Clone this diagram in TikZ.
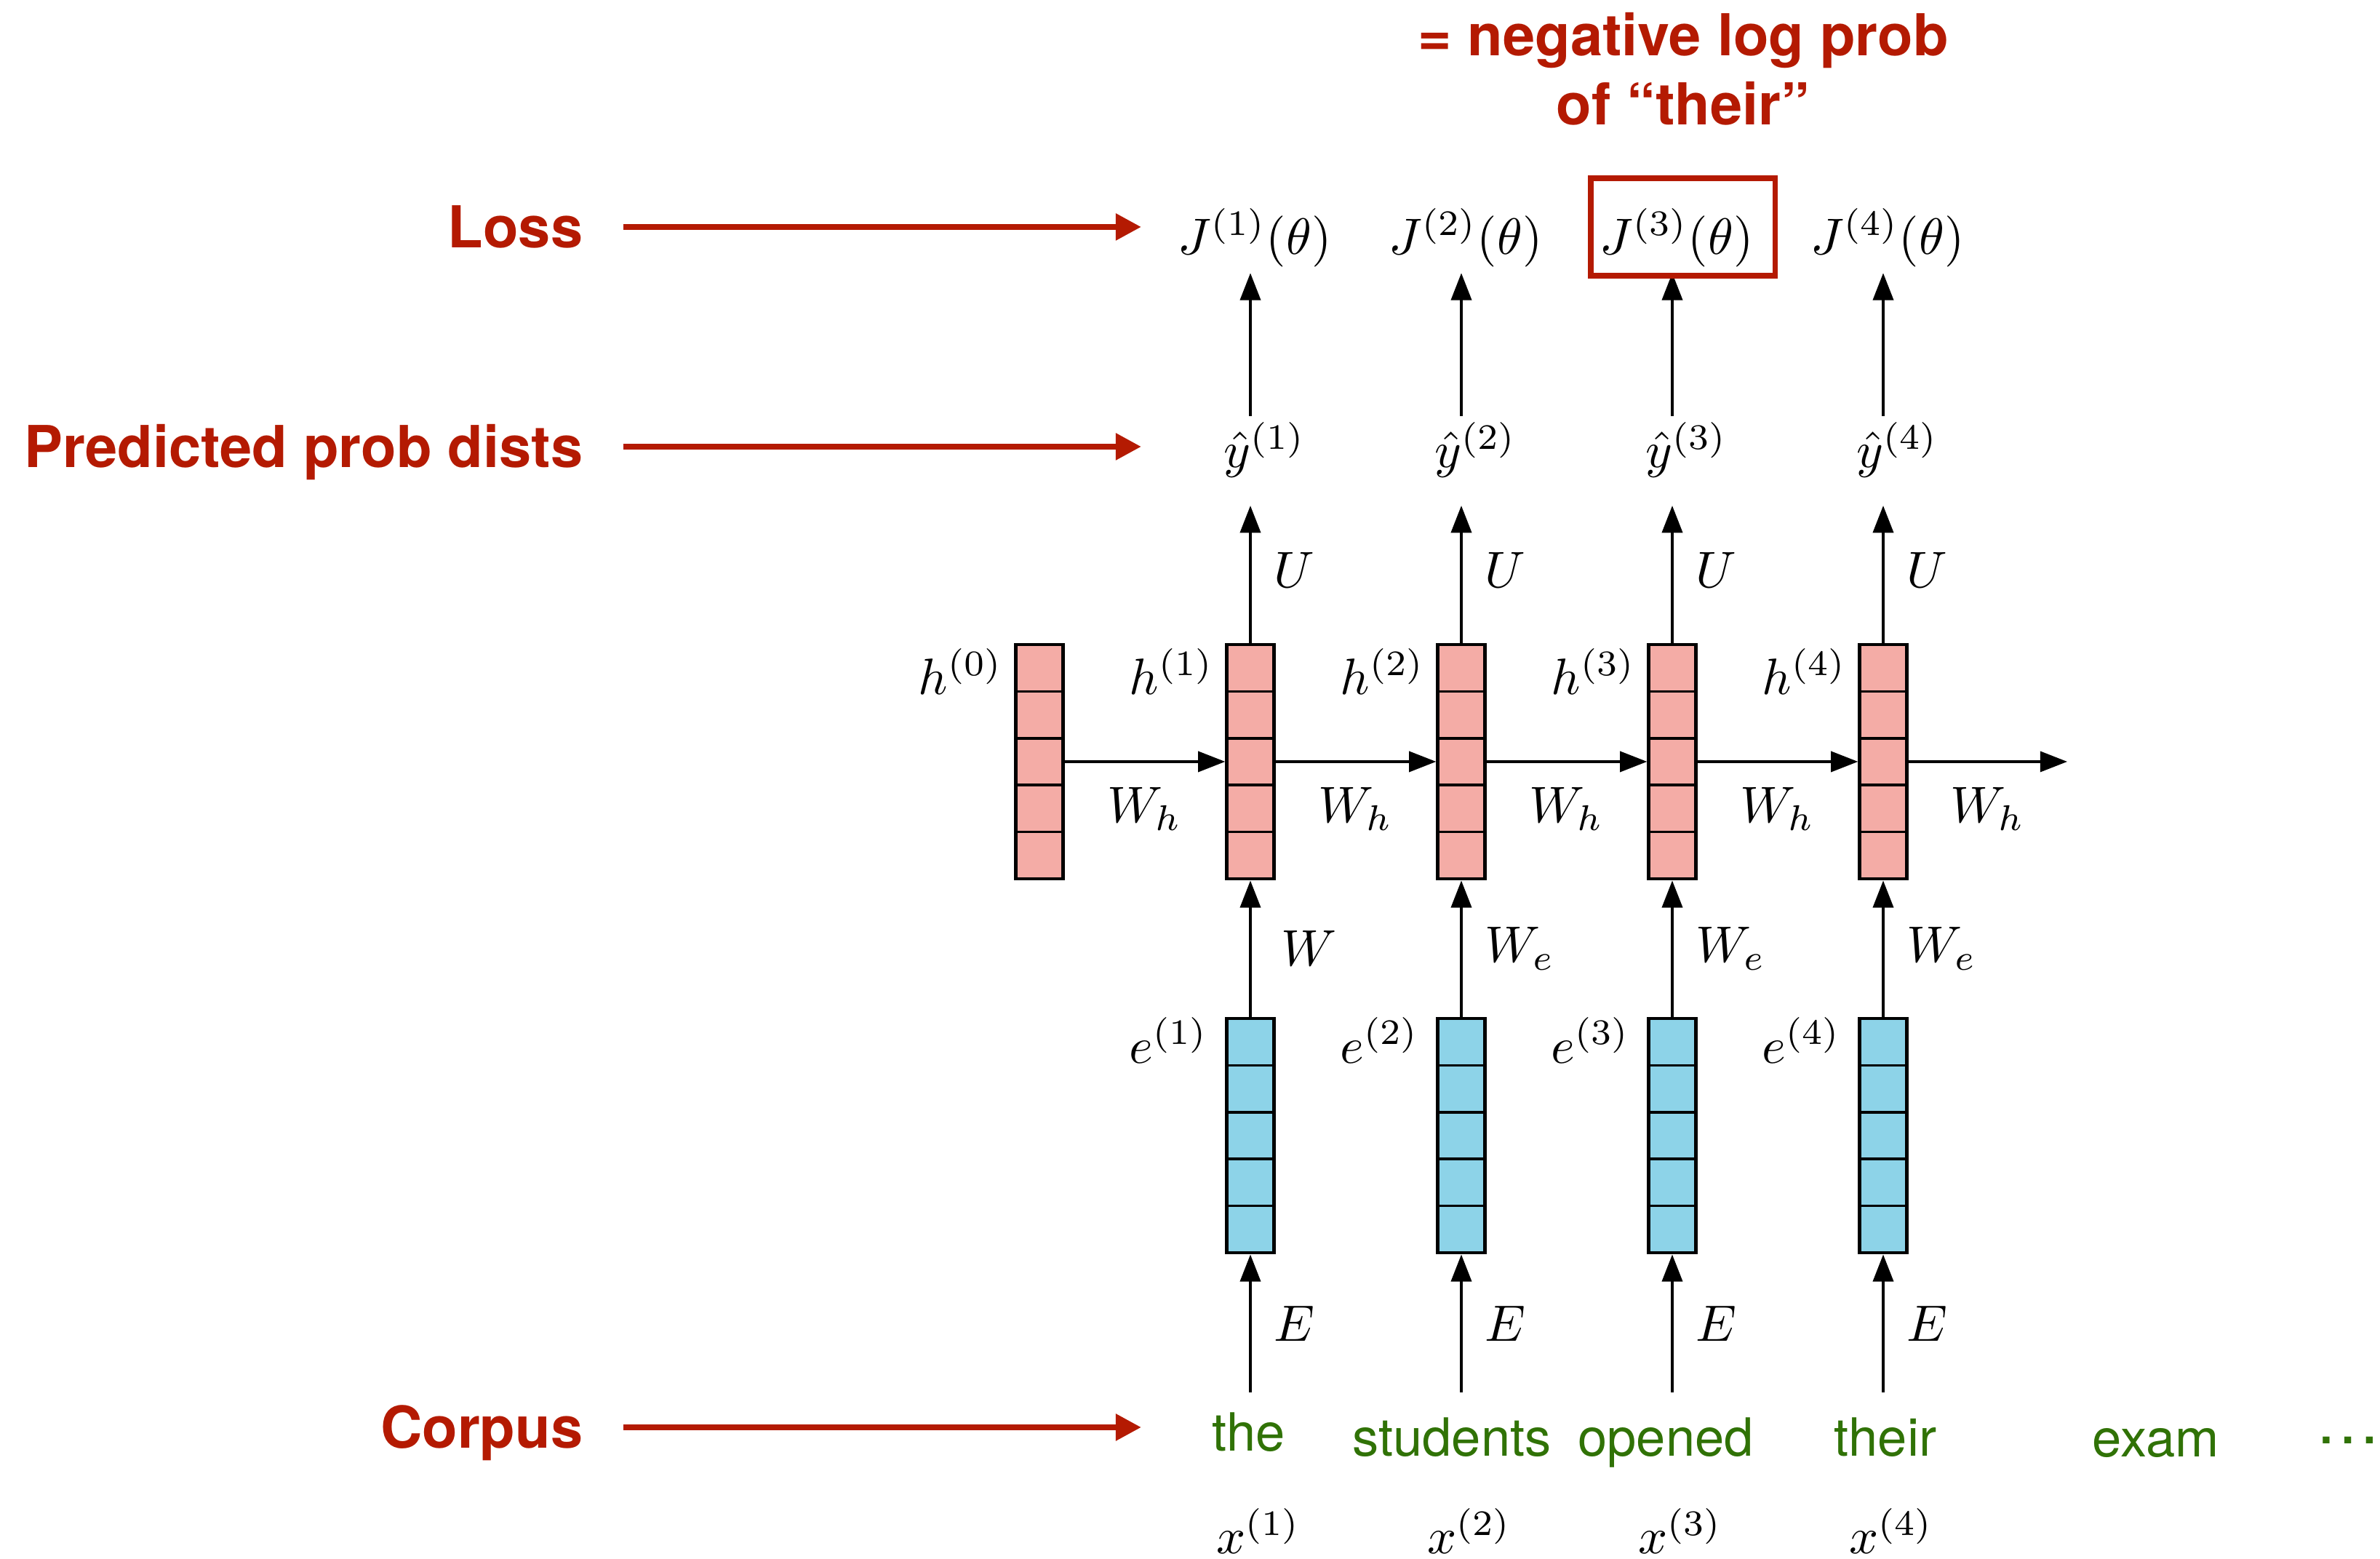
\documentclass[tikz,border=0pt]{standalone}
\usepackage{fontspec}
\setsansfont{TeX Gyre Heros}
\usepackage{amsmath}
\usepackage{tikz}
\usetikzlibrary{arrows.meta,positioning}

\definecolor{lossred}{RGB}{180,26,2}
\definecolor{wordgreen}{RGB}{48,114,6}
\definecolor{hpink}{RGB}{244,172,166}
\definecolor{eblue}{RGB}{141,211,232}

% a vector drawn as a column of 5 cells
\tikzstyle{vec} = [rectangle, draw, line width=0.7pt, inner sep=0pt,
                   minimum width=0.322cm, minimum height=1.61cm,
                   path picture={\foreach \k in {1,...,4}
                     \draw [line width=0.5pt]
                        ([yshift=\k*0.322cm]path picture bounding box.south west)
                        -- ([yshift=\k*0.322cm]path picture bounding box.south east);}]
\tikzstyle{hvec} = [vec, fill=hpink]
\tikzstyle{evec} = [vec, fill=eblue]
\tikzstyle{sym} = [inner sep=1pt, anchor=base]
\tikzstyle{vlabel} = [inner sep=0pt, anchor=north east]
\tikzstyle{corpusword} = [font=\sffamily\fontsize{10.3}{12}\selectfont,
                          text=wordgreen, inner sep=1pt, anchor=base]
\tikzstyle{sidetag} = [font=\sffamily\bfseries\fontsize{11.3}{13.6}\selectfont,
                       text=lossred, inner sep=0pt, anchor=east,
                       text height=8.2pt, text depth=0pt]
\tikzstyle{note} = [font=\sffamily\bfseries\fontsize{11.3}{13.6}\selectfont,
                    text=lossred, inner sep=0pt, align=center]
\tikzstyle{pickbox} = [rectangle, draw=lossred, line width=1.1pt,
                       minimum width=1.2675cm, minimum height=0.67cm]
\tikzstyle{arrow} = [-{Triangle[length=5.3pt,width=4pt]}, line width=0.5pt]
\tikzstyle{redarrow} = [-{Triangle[length=5pt,width=5pt]}, line width=1.2pt,
                        draw=lossred]

\begin{document}
\begin{tikzpicture}[node distance=1.45cm]
    \useasboundingbox (0,0) rectangle (16.36,10.715);

    % hidden states
    \node [hvec] (h0) at (7.145,5.48) {};
    \node [hvec, right of=h0] (h1) {};
    \node [hvec, right of=h1] (h2) {};
    \node [hvec, right of=h2] (h3) {};
    \node [hvec, right of=h3] (h4) {};
    \coordinate (hnext) at (14.21,5.48);

    \node [vlabel, xshift=-0.07cm, yshift=-1pt] (lh0) at (h0.north west) {$h^{(0)}$};
    \node [vlabel, xshift=-0.07cm, yshift=-1pt] (lh1) at (h1.north west) {$h^{(1)}$};
    \node [vlabel, xshift=-0.07cm, yshift=-1pt] (lh2) at (h2.north west) {$h^{(2)}$};
    \node [vlabel, xshift=-0.07cm, yshift=-1pt] (lh3) at (h3.north west) {$h^{(3)}$};
    \node [vlabel, xshift=-0.07cm, yshift=-1pt] (lh4) at (h4.north west) {$h^{(4)}$};

    % embeddings
    \node [evec, node distance=2.57cm, below of=h1] (e1) {};
    \node [evec, node distance=2.57cm, below of=h2] (e2) {};
    \node [evec, node distance=2.57cm, below of=h3] (e3) {};
    \node [evec, node distance=2.57cm, below of=h4] (e4) {};

    \node [vlabel, xshift=-0.11cm] (le1) at (e1.north west) {$e^{(1)}$};
    \node [vlabel, xshift=-0.11cm] (le2) at (e2.north west) {$e^{(2)}$};
    \node [vlabel, xshift=-0.11cm] (le3) at (e3.north west) {$e^{(3)}$};
    \node [vlabel, xshift=-0.11cm] (le4) at (e4.north west) {$e^{(4)}$};

    % outputs and losses
    \node [sym, xshift=0.1cm] (y1) at (h1 |- 0,7.5) {$\hat{y}^{(1)}$};
    \node [sym, xshift=0.1cm] (y2) at (h2 |- 0,7.5) {$\hat{y}^{(2)}$};
    \node [sym, xshift=0.1cm] (y3) at (h3 |- 0,7.5) {$\hat{y}^{(3)}$};
    \node [sym, xshift=0.1cm] (y4) at (h4 |- 0,7.5) {$\hat{y}^{(4)}$};

    \node [sym, xshift=0.03cm] (J1) at (h1 |- 0,8.968) {$J^{(1)}(\theta)$};
    \node [sym, xshift=0.03cm] (J2) at (h2 |- 0,8.968) {$J^{(2)}(\theta)$};
    \node [sym, xshift=0.03cm] (J3) at (h3 |- 0,8.968) {$J^{(3)}(\theta)$};
    \node [sym, xshift=0.03cm] (J4) at (h4 |- 0,8.968) {$J^{(4)}(\theta)$};

    % words and their indices
    \node [corpusword] (the) at (8.585,0.74) {the};
    \node [corpusword] (students) at (9.98,0.705) {students};
    \node [corpusword] (opened) at (11.45,0.705) {opened};
    \node [corpusword] (their) at (12.96,0.705) {their};
    \node [corpusword] (exam) at (14.82,0.70) {exam};
    \node [corpusword, font=\sffamily\fontsize{12.7}{14}\selectfont] (more) at (16.14,0.79) {…};

    \node [sym, xshift=0.055cm] (x1) at (h1 |- 0,0.035) {$x^{(1)}$};
    \node [sym, xshift=0.055cm] (x2) at (h2 |- 0,0.035) {$x^{(2)}$};
    \node [sym, xshift=0.055cm] (x3) at (h3 |- 0,0.035) {$x^{(3)}$};
    \node [sym, xshift=0.055cm] (x4) at (h4 |- 0,0.035) {$x^{(4)}$};

    \coordinate (in1) at (h1 |- 0,1.145);
    \coordinate (in2) at (h2 |- 0,1.145);
    \coordinate (in3) at (h3 |- 0,1.145);
    \coordinate (in4) at (h4 |- 0,1.145);

    % recurrence
    \draw [arrow] (h0) -- node[below=1.5pt] (wh1) {$W_h$} (h1);
    \draw [arrow] (h1) -- node[below=1.5pt] (wh2) {$W_h$} (h2);
    \draw [arrow] (h2) -- node[below=1.5pt] (wh3) {$W_h$} (h3);
    \draw [arrow] (h3) -- node[below=1.5pt] (wh4) {$W_h$} (h4);
    \draw [arrow] (h4) -- node[below=1.5pt] (wh5) {$W_h$} (hnext);

    % word -> embedding -> hidden
    \draw [arrow] (in1) -- node[right=1pt] (lE1) {$E$} (e1);
    \draw [arrow] (in2) -- node[right=1pt] (lE2) {$E$} (e2);
    \draw [arrow] (in3) -- node[right=1pt] (lE3) {$E$} (e3);
    \draw [arrow] (in4) -- node[right=1pt] (lE4) {$E$} (e4);

    \draw [arrow] (e1) -- node[right=1pt, xshift=0.05cm] (lW1) {$W$} (h1);
    \draw [arrow] (e2) -- node[right=1pt] (lW2) {$W_e$} (h2);
    \draw [arrow] (e3) -- node[right=1pt] (lW3) {$W_e$} (h3);
    \draw [arrow] (e4) -- node[right=1pt] (lW4) {$W_e$} (h4);

    % hidden -> output -> loss
    \draw [arrow, shorten >=0.15cm] (h1) -- node[right=1pt, pos=0.46] (lU1) {$U$} (h1 |- y1.south);
    \draw [arrow, shorten >=0.15cm] (h2) -- node[right=1pt, pos=0.46] (lU2) {$U$} (h2 |- y2.south);
    \draw [arrow, shorten >=0.15cm] (h3) -- node[right=1pt, pos=0.46] (lU3) {$U$} (h3 |- y3.south);
    \draw [arrow, shorten >=0.15cm] (h4) -- node[right=1pt, pos=0.46] (lU4) {$U$} (h4 |- y4.south);

    \draw [arrow] (h1 |- y1.north) -- (h1 |- J1.south);
    \draw [arrow] (h2 |- y2.north) -- (h2 |- J2.south);
    \draw [arrow] (h3 |- y3.north) -- (h3 |- J3.south);
    \draw [arrow] (h4 |- y4.north) -- (h4 |- J4.south);

    % loss of the word "their"
    \node [pickbox] (pick) at (11.569,9.155) {};
    \node [note] (nll) at (11.57,10.24) {= negative log prob\\of “their”};

    % row captions
    \node [sidetag] (loss) at (4.013,9.155) {Loss};
    \node [sidetag] (pred) at (4.013,7.645) {Predicted prob dists};
    \node [sidetag] (corpus) at (4.013,0.905) {Corpus};
    \coordinate (losstip) at (7.845,9.155);
    \coordinate (predtip) at (7.845,7.645);
    \coordinate (corpustip) at (7.845,0.905);
    \draw [redarrow, shorten <=0.272cm] (loss) -- (losstip);
    \draw [redarrow, shorten <=0.272cm] (pred) -- (predtip);
    \draw [redarrow, shorten <=0.272cm] (corpus) -- (corpustip);
\end{tikzpicture}
\end{document}
